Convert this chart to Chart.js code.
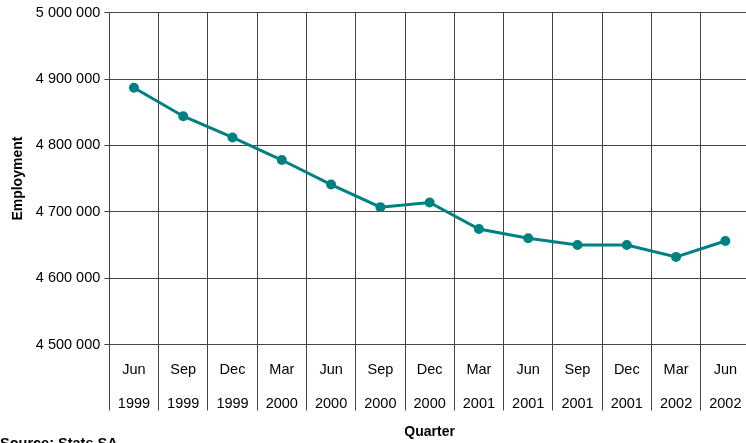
<!DOCTYPE html>
<html>
<head>
<meta charset="utf-8">
<script src="https://cdn.jsdelivr.net/npm/chart.js@4"></script>
<style>
  body { margin: 0; background: #fff; overflow: hidden; }
  /* the plot runs a little past the right edge of the picture */
  #wrap { width: 746px; height: 443px; position: relative; overflow: hidden; }
</style>
</head>
<body>
<div id="wrap"><canvas id="mycanvas" width="757" height="443"></canvas></div>
<script>
// quarters (month + year shown on two lines)
var months = ['Jun', 'Sep', 'Dec', 'Mar', 'Jun', 'Sep', 'Dec', 'Mar', 'Jun', 'Sep', 'Dec', 'Mar', 'Jun'];
var years = ['1999', '1999', '1999', '2000', '2000', '2000', '2000', '2001', '2001', '2001', '2001', '2002', '2002'];
// employment
var employment = [4887000, 4844000, 4812000, 4778000, 4741000, 4707000, 4714000, 4674000, 4660000, 4650000, 4650000, 4632000, 4656000];
var yMin = 4500000;
var yMax = 5000000;
var yStep = 100000;

var labels = [];
for (var i = 0; i < months.length; i++) {
    labels.push([months[i], years[i]]);
}

// source note in the bottom left corner
var sourceNote = {
    id: 'sourceNote',
    afterDraw: function(chart) {
        var ctx = chart.ctx;
        ctx.save();
        ctx.font = 'bold 14.5px Arial, "Liberation Sans", sans-serif';
        ctx.fillStyle = '#000';
        ctx.textBaseline = 'alphabetic';
        ctx.fillText('Source: Stats SA', 0, 447.5);
        ctx.restore();
    }
};

Chart.defaults.font.family = 'Arial, "Liberation Sans", sans-serif';
Chart.defaults.color = '#000';

var ctx = document.getElementById('mycanvas');
var lineGraph = new Chart(ctx, {
    type: 'line',
    data: {
        labels: labels,
        datasets: [{
            label: 'Employment',
            data: employment,
            borderColor: '#008080',
            backgroundColor: '#008080',
            borderWidth: 3,
            pointRadius: 3.5,
            pointHoverRadius: 4,
            tension: 0,
            fill: false
        }]
    },
    options: {
        responsive: false,
        animation: false,
        layout: { padding: { top: 3, right: 0, bottom: 0, left: 1 } },
        plugins: {
            legend: { display: false },
            tooltip: { enabled: false }
        },
        scales: {
            x: {
                offset: true,
                grid: { offset: true, color: '#444', tickLength: 66, tickColor: '#444' },
                border: { color: '#444' },
                ticks: {
                    color: '#000',
                    font: { size: 14.5, lineHeight: 2.3 },
                    // fit() counts the padding twice, drawing once
                    padding: -57,
                    maxRotation: 0,
                    autoSkip: false
                },
                title: {
                    display: true,
                    text: 'Quarter',
                    font: { size: 14, weight: 'bold' },
                    padding: { top: 61, bottom: 2 }
                }
            },
            y: {
                min: yMin,
                max: yMax,
                grid: { color: '#444', tickLength: 5, tickColor: '#444' },
                border: { color: '#444' },
                ticks: {
                    stepSize: yStep,
                    color: '#000',
                    font: { size: 14.5 },
                    padding: 4,
                    callback: function(v) {
                        return String(v).replace(/\B(?=(\d{3})+(?!\d))/g, ' ');
                    }
                },
                title: {
                    display: true,
                    text: 'Employment',
                    font: { size: 14, weight: 'bold' },
                    padding: { top: 9, bottom: 5 }
                }
            }
        }
    },
    plugins: [sourceNote]
});
</script>
</body>
</html>
